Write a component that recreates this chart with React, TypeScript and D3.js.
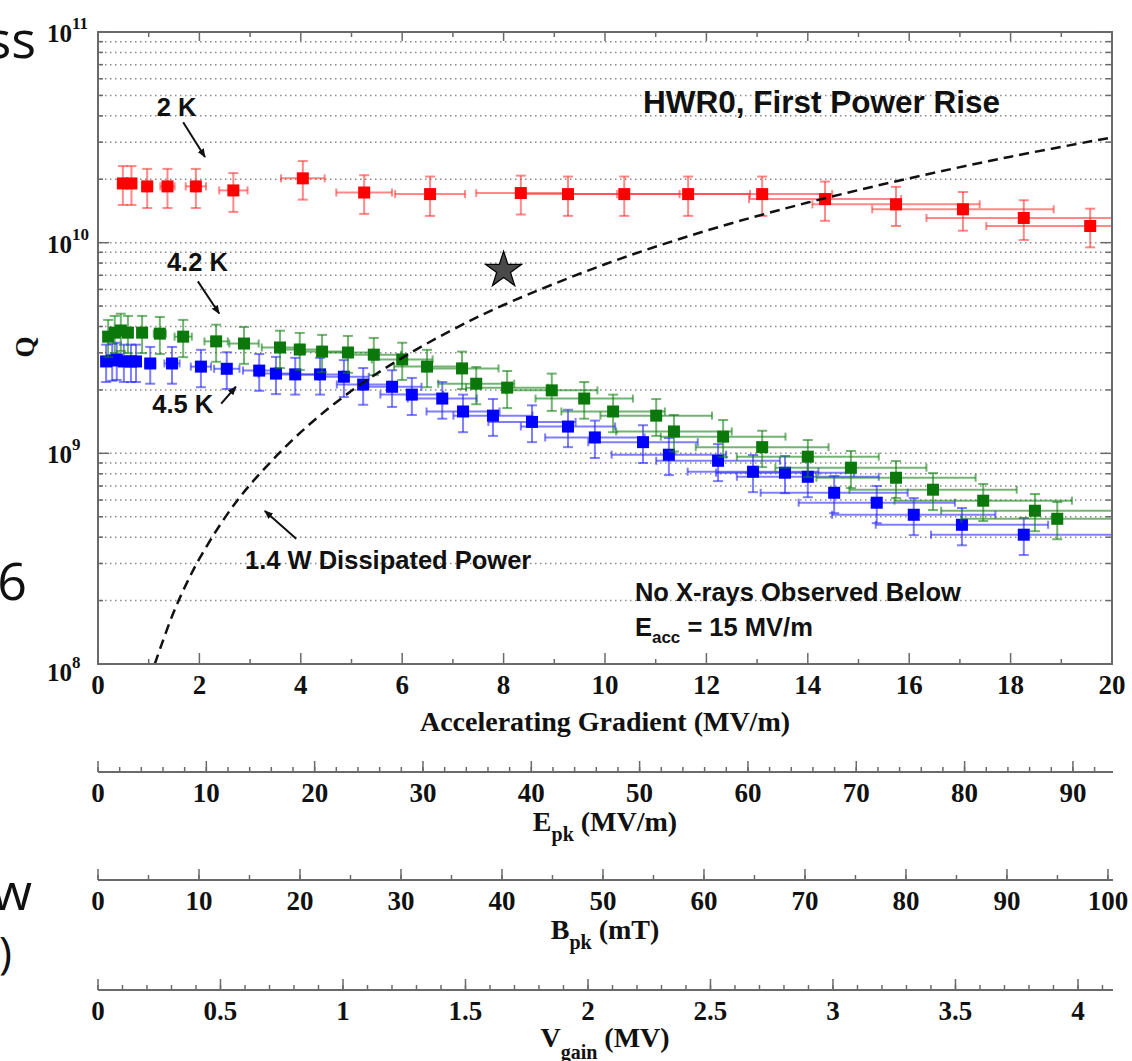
import React from 'react';
import * as d3 from 'd3';

// ---------- Data ----------
// 2 K
const gradient2K = [0.49, 0.66, 0.97, 1.37, 1.93, 2.67, 4.04, 5.25, 6.55, 8.34, 9.27, 10.38, 11.64, 13.1, 14.34, 15.74, 17.06, 18.26, 19.57];
const q2K = [1.91e10, 1.91e10, 1.85e10, 1.85e10, 1.85e10, 1.77e10, 2.02e10, 1.73e10, 1.7e10, 1.72e10, 1.7e10, 1.7e10, 1.7e10, 1.7e10, 1.61e10, 1.52e10, 1.44e10, 1.31e10, 1.2e10];
const gradErr2K = [0.05, 0.07, 0.1, 0.14, 0.2, 0.28, 0.43, 0.55, 0.69, 0.88, 0.97, 1.09, 1.22, 1.38, 1.5, 1.65, 1.79, 1.92, 2.05];
const qErr2K = [0.4e10, 0.4e10, 0.39e10, 0.39e10, 0.39e10, 0.37e10, 0.42e10, 0.36e10, 0.36e10, 0.36e10, 0.36e10, 0.36e10, 0.36e10, 0.36e10, 0.34e10, 0.32e10, 0.3e10, 0.28e10, 0.25e10];

// 4.2 K
const gradient42K = [0.2, 0.33, 0.45, 0.59, 0.87, 1.22, 1.68, 2.33, 2.88, 3.59, 3.98, 4.42, 4.93, 5.44, 6.0, 6.49, 7.18, 7.46, 8.07, 8.95, 9.59, 10.16, 11.01, 11.36, 12.33, 13.1, 14.0, 14.85, 15.74, 16.47, 17.46, 18.48, 18.92];
const q42K = [3.58e9, 3.74e9, 3.83e9, 3.74e9, 3.74e9, 3.7e9, 3.58e9, 3.4e9, 3.32e9, 3.18e9, 3.11e9, 3.04e9, 3.01e9, 2.94e9, 2.79e9, 2.58e9, 2.53e9, 2.14e9, 2.05e9, 1.99e9, 1.82e9, 1.58e9, 1.51e9, 1.27e9, 1.2e9, 1.07e9, 9.64e8, 8.55e8, 7.66e8, 6.72e8, 5.96e8, 5.34e8, 4.89e8];
const gradErr42K = [0.02, 0.03, 0.05, 0.06, 0.09, 0.12, 0.17, 0.23, 0.29, 0.36, 0.4, 0.44, 0.49, 0.54, 0.6, 0.65, 0.72, 0.75, 0.81, 0.9, 0.96, 1.02, 1.1, 1.14, 1.23, 1.31, 1.4, 1.49, 1.57, 1.65, 1.75, 1.85, 1.89];
const qErr42K = [0.72e9, 0.75e9, 0.77e9, 0.75e9, 0.75e9, 0.74e9, 0.72e9, 0.68e9, 0.66e9, 0.64e9, 0.62e9, 0.61e9, 0.6e9, 0.59e9, 0.56e9, 0.52e9, 0.51e9, 0.43e9, 0.41e9, 0.4e9, 0.36e9, 0.32e9, 0.3e9, 0.25e9, 0.24e9, 0.21e9, 1.93e8, 1.71e8, 1.53e8, 1.34e8, 1.19e8, 1.07e8, 0.98e8];

// 4.5 K
const gradient45K = [0.16, 0.28, 0.37, 0.51, 0.65, 0.75, 1.03, 1.46, 2.03, 2.54, 3.18, 3.51, 3.89, 4.38, 4.85, 5.23, 5.8, 6.19, 6.79, 7.2, 7.79, 8.56, 9.27, 9.8, 10.75, 11.26, 12.23, 12.92, 13.55, 14.0, 14.52, 15.36, 16.09, 17.04, 18.26];
const q45K = [2.73e9, 2.76e9, 2.79e9, 2.73e9, 2.73e9, 2.73e9, 2.67e9, 2.67e9, 2.58e9, 2.52e9, 2.47e9, 2.39e9, 2.37e9, 2.37e9, 2.31e9, 2.12e9, 2.07e9, 1.9e9, 1.82e9, 1.58e9, 1.51e9, 1.41e9, 1.34e9, 1.19e9, 1.13e9, 9.85e8, 9.22e8, 8.18e8, 8.09e8, 7.74e8, 6.5e8, 5.83e8, 5.11e8, 4.58e8, 4.11e8];
const gradErr45K = [0.02, 0.03, 0.04, 0.05, 0.07, 0.08, 0.1, 0.15, 0.2, 0.25, 0.32, 0.35, 0.39, 0.44, 0.49, 0.52, 0.58, 0.62, 0.68, 0.72, 0.78, 0.86, 0.93, 0.98, 1.08, 1.13, 1.22, 1.29, 1.36, 1.4, 1.45, 1.54, 1.61, 1.7, 1.83];
const qErr45K = [0.55e9, 0.55e9, 0.56e9, 0.55e9, 0.55e9, 0.55e9, 0.53e9, 0.53e9, 0.52e9, 0.5e9, 0.49e9, 0.48e9, 0.47e9, 0.47e9, 0.46e9, 0.42e9, 0.41e9, 0.38e9, 0.36e9, 0.32e9, 0.3e9, 0.28e9, 0.27e9, 0.24e9, 0.23e9, 1.97e8, 1.84e8, 1.64e8, 1.62e8, 1.55e8, 1.3e8, 1.17e8, 1.02e8, 0.92e8, 0.82e8];

// 1.4 W dissipated power curve
const dissGradient = [1.12, 1.25, 1.5, 1.75, 2, 2.5, 3, 4, 5, 6, 7, 8, 10, 12, 14, 16, 18, 20];
const dissQ = [1.0e8, 1.23e8, 1.78e8, 2.42e8, 3.16e8, 4.94e8, 7.1e8, 1.26e9, 1.98e9, 2.84e9, 3.87e9, 5.06e9, 7.9e9, 1.14e10, 1.55e10, 2.02e10, 2.56e10, 3.16e10];

// star marker
const starPoint = [8.0, 7.4e9];

// axis ticks
const accMajor = [0, 2, 4, 6, 8, 10, 12, 14, 16, 18, 20];
const accMinor = [1, 3, 5, 7, 9, 11, 13, 15, 17, 19];
const epkMax = 93.7;
const epkMajor = [0, 10, 20, 30, 40, 50, 60, 70, 80, 90];
const epkMinor = d3.range(0, 94, 2);
const bpkMax = 100.5;
const bpkMajor = [0, 10, 20, 30, 40, 50, 60, 70, 80, 90, 100];
const bpkMinor = d3.range(0, 101, 5);
const vgainMax = 4.143;
const vgainMajor = [0, 0.5, 1, 1.5, 2, 2.5, 3, 3.5, 4];
const vgainMinor = d3.range(0, 42).map((i) => i / 10);

const SERIF = '"Liberation Serif", "Times New Roman", serif';
const SANS = '"Liberation Sans", Arial, sans-serif';
const AXIS = '#6a6a6a';

function Series({ xs, qs, xe, qe, x, y, fill, err }) {
  return (
    <g>
      {xs.map((e, i) => {
        const cx = x(e), cy = y(qs[i]);
        const x0 = x(e - xe[i]), x1 = x(e + xe[i]);
        const y0 = y(qs[i] + qe[i]), y1 = y(qs[i] - qe[i]);
        return (
          <g key={'e' + i} stroke={err} strokeWidth={2} fill="none">
            <line x1={x0} x2={x1} y1={cy} y2={cy} />
            <line x1={x0} x2={x0} y1={cy - 4} y2={cy + 4} />
            <line x1={x1} x2={x1} y1={cy - 4} y2={cy + 4} />
            <line x1={cx} x2={cx} y1={y0} y2={y1} />
            <line x1={cx - 5} x2={cx + 5} y1={y0} y2={y0} />
            <line x1={cx - 5} x2={cx + 5} y1={y1} y2={y1} />
          </g>
        );
      })}
      {xs.map((e, i) => (
        <rect key={'m' + i} x={x(e) - 6} y={y(qs[i]) - 6} width={12} height={12} fill={fill} />
      ))}
    </g>
  );
}

function SecondaryAxis({ y0, scale, major, minor, fmt, children }) {
  const [r0, r1] = scale.range();
  return (
    <g>
      <line x1={r0} x2={r1} y1={y0} y2={y0} stroke={AXIS} strokeWidth={2} />
      {minor.map((v) => (
        <line key={'n' + v} x1={scale(v)} x2={scale(v)} y1={y0} y2={y0 - 5} stroke={AXIS} strokeWidth={1.5} />
      ))}
      {major.map((v) => (
        <line key={'j' + v} x1={scale(v)} x2={scale(v)} y1={y0} y2={y0 - 11} stroke={AXIS} strokeWidth={1.5} />
      ))}
      {major.map((v) => (
        <text key={'t' + v} x={scale(v)} y={y0 + 30} textAnchor="middle" fontFamily={SERIF} fontWeight="bold" fontSize={27} fill="#111">
          {fmt(v)}
        </text>
      ))}
      {children}
    </g>
  );
}

export default function App() {
  const W = 1132, H = 1061;
  const L = 98, R = 1112, T = 32, B = 664;
  const x = d3.scaleLinear().domain([0, 20]).range([L, R]);
  const y = d3.scaleLog().domain([1e8, 1e11]).range([B, T]);

  const allTicks = y.ticks();
  const gridVals = allTicks.filter((v) => v > 1e8 * 1.01 && v < 1e11 * 0.99);
  const decades = [1e8, 1e9, 1e10, 1e11];

  const dissLine = d3.line<number>()
    .x((d, i) => x(dissGradient[i]))
    .y((d) => y(d))
    .curve(d3.curveCatmullRom)(dissQ);

  const star = d3.symbol().type(d3.symbolStar).size(405)();

  const epk = d3.scaleLinear().domain([0, epkMax]).range([L, 1113]);
  const bpk = d3.scaleLinear().domain([0, bpkMax]).range([L, 1113]);
  const vg = d3.scaleLinear().domain([0, vgainMax]).range([L, 1113]);

  const arrows = [
    [[1.68, 3.73e10], [2.11, 2.55e10]],
    [[1.97, 6.55e9], [2.39, 4.61e9]],
    [[2.43, 1.72e9], [2.72, 2.07e9]],
    [[3.91, 3.93e8], [3.29, 5.33e8]],
  ];

  const ann = { fontFamily: SANS, fontWeight: 'bold', fill: '#111' } as any;

  return (
    <div style={{ position: 'absolute', left: 0, top: 0, background: '#fff' }}>
      <svg width={W} height={H} viewBox={`0 0 ${W} ${H}`} style={{ display: 'block', background: '#fff' }}>
        <defs>
          <clipPath id="plot">
            <rect x={L} y={T} width={R - L} height={B - T} />
          </clipPath>
          <marker id="ah" viewBox="0 0 10 10" refX="9" refY="5" markerWidth="9" markerHeight="9" orient="auto" markerUnits="userSpaceOnUse">
            <path d="M0,1 L10,5 L0,9 z" fill="#111" />
          </marker>
        </defs>

        {/* cropped slide text fragments */}
        <g fontFamily='"Open Sans", "Noto Sans", sans-serif' fill="#111">
          <text x={36} y={58} textAnchor="end" fontSize={52}>ss</text>
          <text x={27} y={600} textAnchor="end" fontSize={52}>6</text>
          <text x={32} y={910} textAnchor="end" fontSize={52}>w</text>
          <text x={12} y={968} textAnchor="end" fontSize={44}>)</text>
        </g>

        {/* grid */}
        <g stroke="#8a8a8a" strokeWidth={1.5} strokeDasharray="1.5 3.5">
          {gridVals.map((v) => (
            <line key={v} x1={L + 2} x2={R - 2} y1={y(v)} y2={y(v)} />
          ))}
        </g>

        {/* data */}
        <g clipPath="url(#plot)">
          <Series xs={gradient45K} qs={q45K} xe={gradErr45K} qe={qErr45K} x={x} y={y} fill="#0000ff" err="rgba(40,40,255,0.6)" />
          <Series xs={gradient42K} qs={q42K} xe={gradErr42K} qe={qErr42K} x={x} y={y} fill="#0a780a" err="rgba(20,130,20,0.6)" />
          <Series xs={gradient2K} qs={q2K} xe={gradErr2K} qe={qErr2K} x={x} y={y} fill="#ff0000" err="rgba(255,40,40,0.55)" />
          <path d={dissLine} fill="none" stroke="#111" strokeWidth={2.5} strokeDasharray="10 6" />
        </g>

        {/* star */}
        <path d={star} transform={`translate(${x(starPoint[0])},${y(starPoint[1])})`} fill="#4a4a4a" stroke="#000" strokeWidth={1.2} />

        {/* frame */}
        <rect x={L} y={T} width={R - L} height={B - T} fill="none" stroke={AXIS} strokeWidth={2} />

        {/* x ticks (bottom & top) */}
        {accMajor.map((v) => (
          <g key={'xm' + v} stroke={AXIS} strokeWidth={1.5}>
            <line x1={x(v)} x2={x(v)} y1={B} y2={B - 11} />
            <line x1={x(v)} x2={x(v)} y1={T} y2={T + 9} />
          </g>
        ))}
        {accMinor.map((v) => (
          <g key={'xn' + v} stroke={AXIS} strokeWidth={1.5}>
            <line x1={x(v)} x2={x(v)} y1={B} y2={B - 5} />
            <line x1={x(v)} x2={x(v)} y1={T} y2={T + 5} />
          </g>
        ))}
        {accMajor.map((v) => (
          <text key={'xl' + v} x={x(v)} y={B + 30} textAnchor="middle" fontFamily={SERIF} fontWeight="bold" fontSize={27} fill="#111">
            {v}
          </text>
        ))}
        <text x={(L + R) / 2} y={731} textAnchor="middle" fontFamily={SERIF} fontWeight="bold" fontSize={28} fill="#111">
          Accelerating Gradient (MV/m)
        </text>

        {/* y ticks (left & right) */}
        {allTicks.map((v) => {
          const isMaj = decades.some((d) => Math.abs(v / d - 1) < 1e-6);
          const len = isMaj ? 11 : 5;
          return (
            <g key={'yt' + v} stroke={AXIS} strokeWidth={1.5}>
              <line x1={L} x2={L + len} y1={y(v)} y2={y(v)} />
              <line x1={R} x2={R - (isMaj ? 11 : 6)} y1={y(v)} y2={y(v)} />
            </g>
          );
        })}
        {decades.map((v) => (
          <text key={'yl' + v} x={47} y={y(v) + (v === 1e8 ? 17 : 10)} fontFamily={SERIF} fontWeight="bold" fontSize={25} fill="#111">
            10
            <tspan dy={-13} fontSize={17}>{Math.round(Math.log10(v))}</tspan>
          </text>
        ))}
        <text transform="translate(34,347) rotate(-90)" textAnchor="middle" fontFamily={SERIF} fontWeight="bold" fontSize={27} fill="#111">
          Q
        </text>

        {/* annotations */}
        <text {...ann} x={x(10.75)} y={y(4.12e10)} fontSize={31.5}>HWR0, First Power Rise</text>
        <text {...ann} x={x(1.16)} y={y(3.99e10)} fontSize={25.5}>2 K</text>
        <text {...ann} x={x(1.36)} y={y(7.3e9)} fontSize={25.5}>4.2 K</text>
        <text {...ann} x={x(1.07)} y={y(1.56e9)} fontSize={25.5}>4.5 K</text>
        <text {...ann} x={x(2.9)} y={y(2.82e8)} fontSize={25.5}>1.4 W Dissipated Power</text>
        <text {...ann} x={x(10.59)} y={y(1.99e8)} fontSize={25.5}>No X-rays Observed Below</text>
        <text {...ann} x={x(10.59)} y={y(1.36e8)} fontSize={25.5}>
          E<tspan fontSize={17} dy={7}>acc</tspan><tspan dy={-7}> = 15 MV/m</tspan>
        </text>
        {arrows.map((a, i) => (
          <line key={'ar' + i} x1={x(a[0][0])} y1={y(a[0][1])} x2={x(a[1][0])} y2={y(a[1][1])} stroke="#111" strokeWidth={2} markerEnd="url(#ah)" />
        ))}

        {/* secondary axes */}
        <SecondaryAxis y0={772} scale={epk} major={epkMajor} minor={epkMinor} fmt={(v) => String(v)}>
          <text x={605} y={831} textAnchor="middle" fontFamily={SERIF} fontWeight="bold" fontSize={28} fill="#111">
            E<tspan dy={10} fontSize={20}>pk</tspan><tspan dy={-10}> (MV/m)</tspan>
          </text>
        </SecondaryAxis>
        <SecondaryAxis y0={880} scale={bpk} major={bpkMajor} minor={bpkMinor} fmt={(v) => String(v)}>
          <text x={605} y={939} textAnchor="middle" fontFamily={SERIF} fontWeight="bold" fontSize={28} fill="#111">
            B<tspan dy={10} fontSize={20}>pk</tspan><tspan dy={-10}> (mT)</tspan>
          </text>
        </SecondaryAxis>
        <SecondaryAxis y0={990} scale={vg} major={vgainMajor} minor={vgainMinor} fmt={(v) => String(+v.toFixed(1))}>
          <text x={605} y={1047} textAnchor="middle" fontFamily={SERIF} fontWeight="bold" fontSize={28} fill="#111">
            V<tspan dy={12} fontSize={20}>gain</tspan><tspan dy={-12}> (MV)</tspan>
          </text>
        </SecondaryAxis>
      </svg>
    </div>
  );
}
